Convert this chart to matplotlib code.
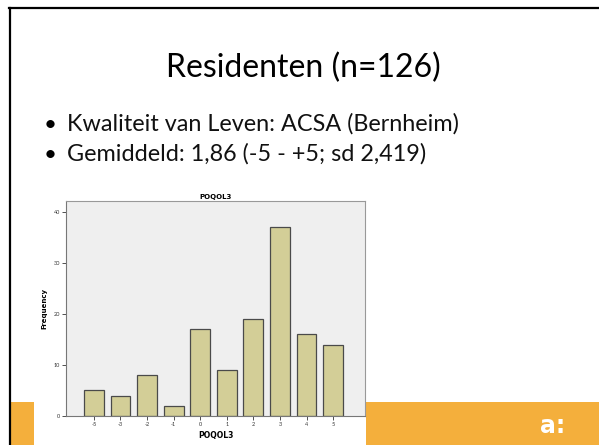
import matplotlib.pyplot as plt
from matplotlib.patches import Rectangle
from matplotlib.lines import Line2D

# histogram of POQOL3
categories = ['-5', '-3', '-2', '-1', '0', '1', '2', '3', '4', '5']
frequency = [5, 4, 8, 2, 17, 9, 19, 37, 16, 14]
yticks = [0, 10, 20, 30, 40]

title = 'Residenten (n=126)'
bullets = ['Kwaliteit van Leven: ACSA (Bernheim)',
           'Gemiddeld: 1,86 (-5 - +5; sd 2,419)']

W, H = 599, 445
ORANGE = '#F4AF3C'

plt.rcParams['font.family'] = ['Lato', 'DejaVu Sans']

fig = plt.figure(figsize=(W / 100, H / 100), dpi=100)


def fx(px):
    return px / W


def fy(py):
    return 1 - py / H


# slide frame + bottom band (behind the chart)
fig.add_artist(Rectangle((fx(10), 0), 1 - fx(10), fy(402), transform=fig.transFigure,
                         facecolor=ORANGE, edgecolor='none', zorder=-3))
fig.add_artist(Rectangle((fx(34), 0), fx(366) - fx(34), fy(190), transform=fig.transFigure,
                         facecolor='white', edgecolor='none', zorder=-2))
fig.add_artist(Line2D([fx(9), 1], [fy(8), fy(8)], transform=fig.transFigure,
                      color='black', lw=1.6))
fig.add_artist(Line2D([fx(10), fx(10)], [fy(8), 0], transform=fig.transFigure,
                      color='black', lw=1.6))

# logo
fig.text(fx(553), fy(426), 'a:', color='white', fontsize=17, fontweight='bold',
         ha='center', va='center', family='DejaVu Sans')

# slide title and bullets
fig.text(fx(303), fy(77), title, ha='center', va='baseline', fontsize=23)
for i, b in enumerate(bullets):
    y = fy(131 + i * 30)
    fig.text(fx(50), y, '\u2022', ha='center', va='baseline', fontsize=16)
    fig.text(fx(67), y, b, ha='left', va='baseline', fontsize=16.8, color='#111111')

# SPSS chart
ax = fig.add_axes([fx(66), fy(416), fx(365) - fx(66), (416 - 201) / H])
ax.set_facecolor('#EFEFEF')
x = list(range(len(categories)))
ax.bar(x, frequency, width=0.75, color='#D3CE97', edgecolor='#4A4A4A', linewidth=0.9)
ax.set_xlim(-1.05, 10.2)
ax.set_ylim(0, 42.1)
ax.set_xticks(x)
ax.set_xticklabels(categories)
ax.set_yticks(yticks)
ax.tick_params(labelsize=4, length=3, width=0.6, pad=1.5, colors='#333333')
for s in ax.spines.values():
    s.set_color('#999999')
    s.set_linewidth(0.8)
ax.spines['left'].set_color('#777777')
ax.spines['bottom'].set_color('#777777')
ax.set_title('POQOL3', fontsize=5, fontweight='bold', pad=1.5, family='DejaVu Sans')
ax.set_xlabel('POQOL3', fontsize=5.5, fontweight='bold', labelpad=3, family='DejaVu Sans')
ax.set_ylabel('Frequency', fontsize=5, fontweight='bold', labelpad=4, family='DejaVu Sans')

fig.savefig('out.png', dpi=100)
